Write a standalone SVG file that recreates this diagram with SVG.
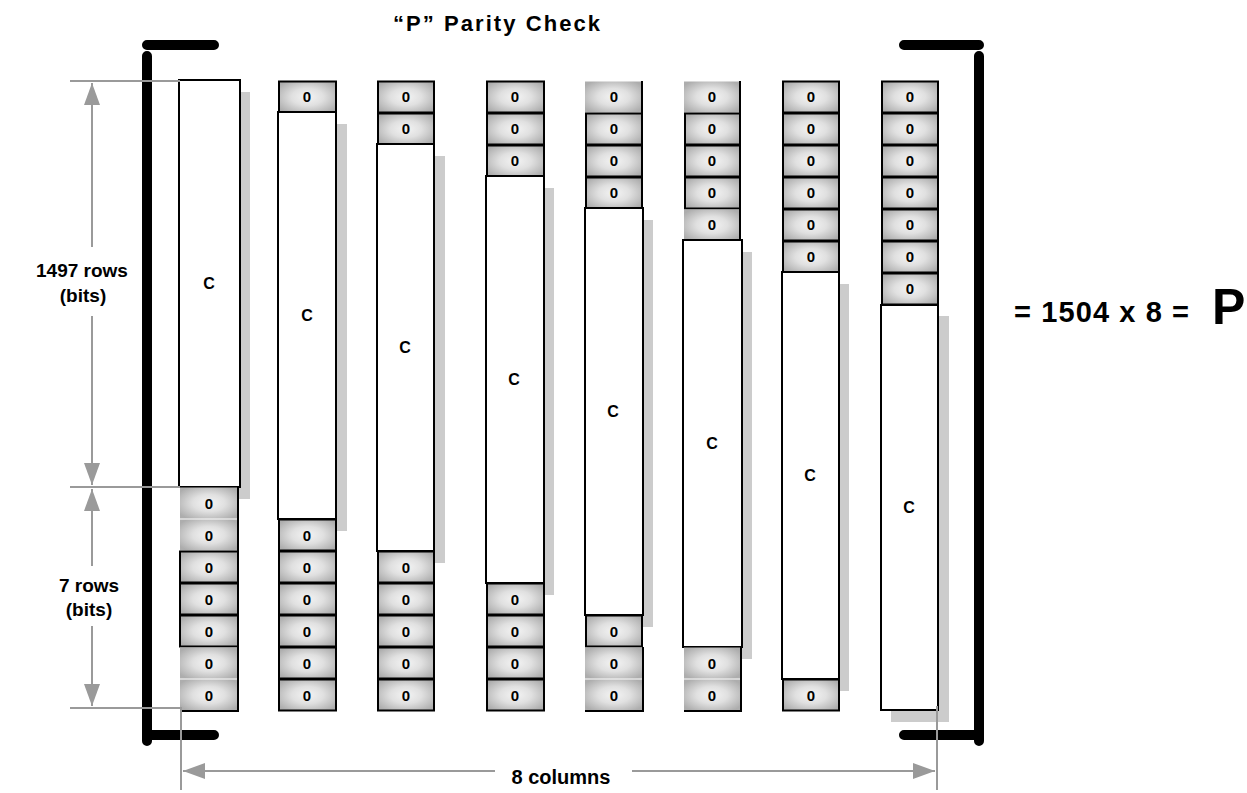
<svg xmlns="http://www.w3.org/2000/svg" width="1247" height="793" viewBox="0 0 1247 793">
<defs>
<radialGradient id="cg" cx="0.5" cy="0.5" r="0.62">
<stop offset="0" stop-color="#f4f4f4"/>
<stop offset="0.45" stop-color="#e0e0e0"/>
<stop offset="1" stop-color="#adadad"/>
</radialGradient>
<marker id="ah" viewBox="0 0 22 16" refX="22" refY="8" markerWidth="22" markerHeight="16" markerUnits="userSpaceOnUse" orient="auto-start-reverse">
<path d="M0,0 L22,8 L0,16 Z" fill="#9a9a9a"/>
</marker>
</defs>
<style>
text{font-family:"Liberation Sans",Arial,sans-serif;font-weight:bold;fill:#000}
.z{font-size:15px;text-anchor:middle}
.c{font-size:16px;text-anchor:middle}
.lbl{font-size:19px;text-anchor:middle}
.cell{fill:url(#cg);stroke:#000;stroke-width:2}
.nb{fill:url(#cg);stroke:none}
.tall{fill:#fff;stroke:#000;stroke-width:2}
.sh{fill:#cccccc}
.edge{stroke:#000;stroke-width:2;fill:none}
.dim{stroke:#9a9a9a;stroke-width:2;fill:none}
.br{stroke:#000;stroke-width:10;stroke-linecap:round;fill:none}
</style>
<rect width="1247" height="793" fill="#fff"/>
<text x="393" y="31" style="font-size:22px" textLength="207" lengthAdjust="spacing">“P” Parity Check</text>

<g id="brackets">
<path class="br" d="M147 45 H214 M147 56 V741 M152 735 H214"/>
<path class="br" d="M904 45 H979 M979 56 V741 M904 735 H974"/>
</g>

<g id="col1">
<rect class="sh" x="189" y="92" width="61" height="407"/>
<rect class="tall" x="179" y="80" width="61" height="407"/>
<text class="c" x="209" y="289">C</text>
<rect class="nb" x="180" y="487.5" width="58" height="31"/>
<rect class="nb" x="180" y="519.5" width="58" height="31"/>
<rect class="cell" x="180" y="551.5" width="58" height="31"/>
<rect class="cell" x="180" y="583.5" width="58" height="31"/>
<rect class="cell" x="180" y="615.5" width="58" height="31"/>
<rect class="nb" x="180" y="647.5" width="58" height="31"/>
<rect class="nb" x="180" y="679.5" width="58" height="31"/>
<path class="edge" d="M238 487 V711 H180"/>
<text class="z" x="209" y="509">0</text><text class="z" x="209" y="541">0</text><text class="z" x="209" y="573">0</text><text class="z" x="209" y="605">0</text><text class="z" x="209" y="637">0</text><text class="z" x="209" y="669">0</text><text class="z" x="209" y="701">0</text>
</g>

<g id="col2">
<rect class="sh" x="289" y="124" width="58" height="407"/>
<rect class="cell" x="279" y="81.5" width="57" height="31"/>
<rect class="tall" x="278" y="112" width="58" height="407"/>
<text class="c" x="307" y="321">C</text>
<rect class="cell" x="279" y="519.5" width="57" height="31"/>
<rect class="cell" x="279" y="551.5" width="57" height="31"/>
<rect class="cell" x="279" y="583.5" width="57" height="31"/>
<rect class="cell" x="279" y="615.5" width="57" height="31"/>
<rect class="cell" x="279" y="647.5" width="57" height="31"/>
<rect class="cell" x="279" y="679.5" width="57" height="31"/>
<text class="z" x="307" y="102">0</text><text class="z" x="307" y="541">0</text><text class="z" x="307" y="573">0</text><text class="z" x="307" y="605">0</text><text class="z" x="307" y="637">0</text><text class="z" x="307" y="669">0</text><text class="z" x="307" y="701">0</text>
</g>

<g id="col3">
<rect class="sh" x="388" y="156" width="57" height="407"/>
<rect class="cell" x="378" y="81.5" width="56" height="31"/>
<rect class="cell" x="378" y="113.5" width="56" height="31"/>
<rect class="tall" x="377" y="144" width="57" height="407"/>
<text class="c" x="405" y="353">C</text>
<rect class="cell" x="378" y="551.5" width="56" height="31"/>
<rect class="cell" x="378" y="583.5" width="56" height="31"/>
<rect class="cell" x="378" y="615.5" width="56" height="31"/>
<rect class="cell" x="378" y="647.5" width="56" height="31"/>
<rect class="cell" x="378" y="679.5" width="56" height="31"/>
<text class="z" x="406" y="102">0</text><text class="z" x="406" y="134">0</text><text class="z" x="406" y="573">0</text><text class="z" x="406" y="605">0</text><text class="z" x="406" y="637">0</text><text class="z" x="406" y="669">0</text><text class="z" x="406" y="701">0</text>
</g>

<g id="col4">
<rect class="sh" x="497" y="188" width="57" height="407"/>
<rect class="cell" x="487" y="81.5" width="57" height="31"/>
<rect class="cell" x="487" y="113.5" width="57" height="31"/>
<rect class="cell" x="487" y="145.5" width="57" height="31"/>
<rect class="tall" x="486" y="176" width="58" height="407"/>
<text class="c" x="514" y="385">C</text>
<rect class="cell" x="487" y="583.5" width="57" height="31"/>
<rect class="cell" x="487" y="615.5" width="57" height="31"/>
<rect class="cell" x="487" y="647.5" width="57" height="31"/>
<rect class="cell" x="487" y="679.5" width="57" height="31"/>
<text class="z" x="515" y="102">0</text><text class="z" x="515" y="134">0</text><text class="z" x="515" y="166">0</text><text class="z" x="515" y="605">0</text><text class="z" x="515" y="637">0</text><text class="z" x="515" y="669">0</text><text class="z" x="515" y="701">0</text>
</g>

<g id="col5">
<rect class="sh" x="595" y="220" width="58" height="407"/>
<rect class="nb" x="585" y="81.5" width="57" height="31"/>
<path class="edge" d="M642 81 V113"/>
<rect class="cell" x="586" y="113.5" width="56" height="31"/>
<rect class="cell" x="586" y="145.5" width="56" height="31"/>
<rect class="cell" x="586" y="177.5" width="56" height="31"/>
<rect class="tall" x="585" y="208" width="58" height="407"/>
<text class="c" x="613" y="417">C</text>
<rect class="cell" x="586" y="615.5" width="56" height="31"/>
<rect class="nb" x="585" y="647.5" width="58" height="31"/>
<rect class="nb" x="585" y="679.5" width="58" height="31"/>
<path class="edge" d="M643 647 V711 H585"/>
<text class="z" x="614" y="102">0</text><text class="z" x="614" y="134">0</text><text class="z" x="614" y="166">0</text><text class="z" x="614" y="198">0</text><text class="z" x="614" y="637">0</text><text class="z" x="614" y="669">0</text><text class="z" x="614" y="701">0</text>
</g>

<g id="col6">
<rect class="sh" x="693" y="252" width="59" height="407"/>
<rect class="nb" x="684" y="81.5" width="56" height="31"/>
<path class="edge" d="M740 81 V113"/>
<rect class="cell" x="685" y="113.5" width="55" height="31"/>
<rect class="cell" x="685" y="145.5" width="55" height="31"/>
<rect class="cell" x="685" y="177.5" width="55" height="31"/>
<rect class="nb" x="684" y="209.5" width="56" height="31"/>
<path class="edge" d="M740 209 V241"/>
<rect class="tall" x="683" y="240" width="59" height="407"/>
<text class="c" x="712" y="449">C</text>
<rect class="nb" x="684" y="647.5" width="56" height="31"/>
<rect class="nb" x="684" y="679.5" width="56" height="31"/>
<path class="edge" d="M741 647 V711 H684"/>
<text class="z" x="712" y="102">0</text><text class="z" x="712" y="134">0</text><text class="z" x="712" y="166">0</text><text class="z" x="712" y="198">0</text><text class="z" x="712" y="230">0</text><text class="z" x="712" y="669">0</text><text class="z" x="712" y="701">0</text>
</g>

<g id="col7">
<rect class="sh" x="792" y="284" width="57" height="407"/>
<rect class="cell" x="783" y="81.5" width="56" height="31"/>
<rect class="cell" x="783" y="113.5" width="56" height="31"/>
<rect class="cell" x="783" y="145.5" width="56" height="31"/>
<rect class="cell" x="783" y="177.5" width="56" height="31"/>
<rect class="cell" x="783" y="209.5" width="56" height="31"/>
<rect class="cell" x="783" y="241.5" width="56" height="31"/>
<rect class="tall" x="782" y="272" width="57" height="407"/>
<text class="c" x="810" y="481">C</text>
<rect class="cell" x="783" y="679.5" width="56" height="31"/>
<text class="z" x="811" y="102">0</text><text class="z" x="811" y="134">0</text><text class="z" x="811" y="166">0</text><text class="z" x="811" y="198">0</text><text class="z" x="811" y="230">0</text><text class="z" x="811" y="262">0</text><text class="z" x="811" y="701">0</text>
</g>

<g id="col8">
<rect class="sh" x="891" y="316" width="58" height="406"/>
<rect class="cell" x="882" y="81.5" width="56" height="31"/>
<rect class="cell" x="882" y="113.5" width="56" height="31"/>
<rect class="cell" x="882" y="145.5" width="56" height="31"/>
<rect class="cell" x="882" y="177.5" width="56" height="31"/>
<rect class="cell" x="882" y="209.5" width="56" height="31"/>
<rect class="cell" x="882" y="241.5" width="56" height="31"/>
<rect class="cell" x="882" y="273.5" width="56" height="31"/>
<rect class="tall" x="881" y="305" width="57" height="405"/>
<text class="c" x="909" y="513">C</text>
<text class="z" x="910" y="102">0</text><text class="z" x="910" y="134">0</text><text class="z" x="910" y="166">0</text><text class="z" x="910" y="198">0</text><text class="z" x="910" y="230">0</text><text class="z" x="910" y="262">0</text><text class="z" x="910" y="294">0</text>
</g>

<g id="connectors">
<path class="dim" d="M70 81 H180 M70 487 H180 M70 708 H182 M181 708 V790 M937 706 V790"/>
<path class="dim" d="M92 247 V83" marker-end="url(#ah)"/>
<path class="dim" d="M92 316 V485" marker-end="url(#ah)"/>
<path class="dim" d="M92 566 V489" marker-end="url(#ah)"/>
<path class="dim" d="M92 626 V706" marker-end="url(#ah)"/>
<path class="dim" d="M495 771 H183" marker-end="url(#ah)"/>
<path class="dim" d="M632 771 H935" marker-end="url(#ah)"/>
</g>

<g id="labels">
<text class="lbl" x="82" y="277">1497 rows</text>
<text class="lbl" x="83" y="302">(bits)</text>
<text class="lbl" x="89" y="592">7 rows</text>
<text class="lbl" x="89" y="616">(bits)</text>
<text class="lbl" x="561" y="784" style="font-size:20px">8 columns</text>
<text x="1014" y="322" style="font-size:29px" textLength="175" lengthAdjust="spacing">= 1504 x 8 =</text>
<text x="1212" y="324" style="font-size:50px">P</text>
</g>
</svg>
